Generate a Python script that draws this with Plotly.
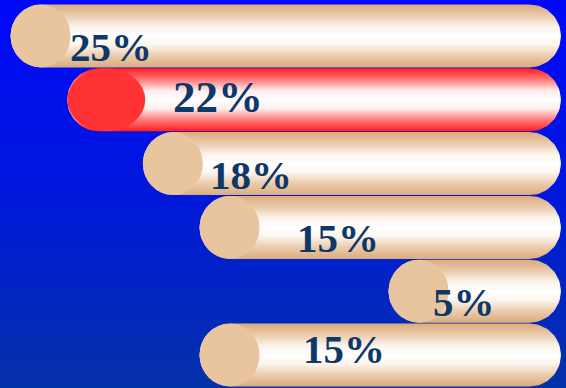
import numpy as np
import plotly.graph_objects as go

# ---- data ----
values = [25, 22, 18, 15, 5, 15]
labels = ["25%", "22%", "18%", "15%", "5%", "15%"]
highlight = 1

# ---- layout / style ----
W, H = 566, 388
x_range = [25.56, -4.39]      # reversed: bars grow to the left
y_range = [5.517, -0.564]     # reversed: first bar at top
base = -4.12                  # common right end of bars
kx = W / (x_range[0] - x_range[1])
ky = H / (y_range[0] - y_range[1])
bar_px = 63
half = bar_px / 2 / ky

label_dx = [57.5, 104, 65, 95.5, 42, 101.5]
label_dy = [11, -3, 11, 10.5, 11, -6]
label_size = [41, 45, 41, 41, 41, 41]

tan_scale = [[0, "#dcab7c"], [0.18, "#eacbac"], [0.36, "#fcf5ee"], [0.5, "#ffffff"],
             [0.64, "#fcf5ee"], [0.82, "#eacbac"], [1, "#dcab7c"]]
red_scale = [[0, "#ff1c1c"], [0.18, "#ff7a7a"], [0.36, "#ffeeee"], [0.5, "#ffffff"],
             [0.64, "#ffeeee"], [0.82, "#ff7a7a"], [1, "#ff1c1c"]]
bg_scale = [[0, "#0432a8"], [0.5, "#0018dc"], [1, "#0008f8"]]  # bottom -> top (as rendered)


def stadium(xl, xr, yc):
    """Rounded bar path in data coords (x axis reversed, y axis reversed)."""
    r = bar_px / 2
    rxd, ryd = r / kx, r / ky
    t = np.linspace(-np.pi / 2, np.pi / 2, 40)
    cxr = xr + rxd
    xs_r = cxr - np.cos(t) * rxd
    ys_r = yc + np.sin(t) * ryd
    cxl = xl - rxd
    t2 = np.linspace(np.pi / 2, 3 * np.pi / 2, 40)
    xs_l = cxl - np.cos(t2) * rxd
    ys_l = yc + np.sin(t2) * ryd
    xs = np.concatenate([xs_r, xs_l, xs_r[:1]])
    ys = np.concatenate([ys_r, ys_l, ys_r[:1]])
    return xs, ys


fig = go.Figure()

# background gradient
fig.add_trace(go.Scatter(
    x=[x_range[0], x_range[1], x_range[1], x_range[0], x_range[0]],
    y=[y_range[1], y_range[1], y_range[0], y_range[0], y_range[1]],
    mode="lines", fill="toself", line=dict(width=0),
    fillgradient=dict(type="vertical", colorscale=bg_scale),
    hoverinfo="skip", showlegend=False))

shapes = []
annotations = []
for i, v in enumerate(values):
    xs, ys = stadium(v, base, i)
    scale = red_scale if i == highlight else tan_scale
    fig.add_trace(go.Scatter(
        x=xs, y=ys, mode="lines", fill="toself", line=dict(width=0),
        fillgradient=dict(type="vertical", colorscale=scale),
        hoverinfo="skip", showlegend=False))
    cap_w = 78 if i == highlight else 60
    shapes.append(dict(
        type="circle", xref="x", yref="y", layer="above",
        x0=v, x1=v - cap_w / kx, y0=i - half, y1=i + half,
        fillcolor="#ff3333" if i == highlight else "#e8c49f",
        line=dict(width=0)))
    annotations.append(dict(
        x=v, y=i, xref="x", yref="y", text="<b>%s</b>" % labels[i],
        xanchor="left", yanchor="middle", xshift=label_dx[i], yshift=-label_dy[i],
        showarrow=False,
        font=dict(family="Liberation Serif, Times New Roman, serif",
                  size=label_size[i], color="#0d3868")))

fig.update_layout(
    width=W, height=H, margin=dict(l=0, r=0, t=0, b=0),
    paper_bgcolor="#0018dc", plot_bgcolor="#0018dc",
    xaxis=dict(range=x_range, visible=False, fixedrange=True),
    yaxis=dict(range=y_range, visible=False, fixedrange=True),
    shapes=shapes, annotations=annotations, showlegend=False)

fig.write_html("out.html", config={"displayModeBar": False})
